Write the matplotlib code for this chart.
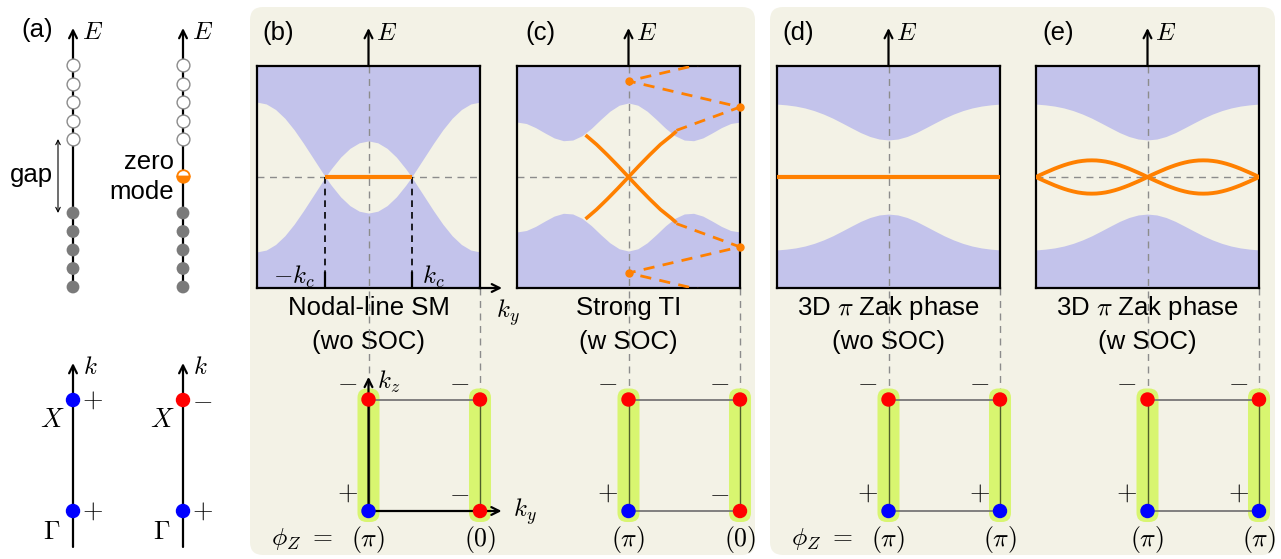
import numpy as np
import matplotlib
matplotlib.use("Agg")
import matplotlib.pyplot as plt
from matplotlib.patches import FancyBboxPatch

plt.rcParams['font.family'] = ['Liberation Sans', 'DejaVu Sans']
plt.rcParams['mathtext.fontset'] = 'cm'

# ---------------- data ----------------
# panel (a): energy levels in units of the level spacing
levels_empty = [2, 3, 4, 5, 6]
levels_filled = [-2, -3, -4, -5, -6]
zero_mode = [0]
# parities at (Gamma, X) for the two 1D chains
parity_chain = [['+', '+'], ['+', '-']]

# band edges (units of half box height), read at k = j*pi/12, j = 0..12
k_grid = [j / 12 for j in range(13)]
# (b) nodal line: bands touch at k = kc
kc_frac = 0.387
k_b = [0, 1/12, 2/12, 3/12, 4/12, kc_frac, 5/12, 6/12, 7/12, 8/12, 9/12, 10/12, 11/12, 1]
edge_b = [0.325, 0.308, 0.258, 0.179, 0.075, 0.0, 0.046, 0.175, 0.304, 0.425, 0.529, 0.608, 0.658, 0.675]
# (c) strong TI
edge_c = [0.667, 0.647, 0.593, 0.518, 0.438, 0.372, 0.333, 0.327, 0.352, 0.397, 0.445, 0.482, 0.495]
# (d), (e) pi Zak phase
edge_d = [0.334, 0.342, 0.365, 0.400, 0.443, 0.487, 0.530, 0.567, 0.598, 0.622, 0.639, 0.650, 0.657]

# surface states
surf_c_k = [-1.21, -0.9, -0.6, -0.3, 0, 0.3, 0.6, 0.9, 1.2, 1.35]
surf_c_e = [0.378, 0.293, 0.200, 0.102, 0, -0.102, -0.200, -0.293, -0.370, -0.412]
fold_c_k = [1.35, np.pi, 0, np.pi]
fold_c_e = [0.42, 0.63, 0.865, 1.10]
fold_dots_k = [0, np.pi]
fold_dots_e = [0.865, 0.63]
# (e) surface state, read at k = j*pi/24, j = 0..24
k_fine = [j / 24 for j in range(25)]
surf_e = [0, 0.020, 0.039, 0.057, 0.075, 0.091, 0.106, 0.119, 0.130, 0.139, 0.145, 0.149, 0.150,
          0.149, 0.145, 0.139, 0.130, 0.119, 0.106, 0.091, 0.075, 0.057, 0.039, 0.020, 0]

# parities at (ky,kz) = (0,0), (0,pi), (pi,0), (pi,pi)
parity_bz = [['+', '-', '-', '-'], ['+', '-', '-', '-'],
             ['+', '-', '+', '-'], ['+', '-', '+', '-']]
zak = [[r'$(\pi)$', r'$(0)$'], [r'$(\pi)$', r'$(0)$'],
       [r'$(\pi)$', r'$(\pi)$'], [r'$(\pi)$', r'$(\pi)$']]
titles = [['Nodal-line SM', '(wo SOC)'], ['Strong TI', '(w SOC)'],
          [r'3D $\pi$ Zak phase', '(wo SOC)'], [r'3D $\pi$ Zak phase', '(w SOC)']]
labels = ['(b)', '(c)', '(d)', '(e)']

# ---------------- style ----------------
W, H = 1281, 559
beige = '#f3f2e6'
lav = '#c3c3eb'
orange = '#ff8000'
green = '#d8f570'
gdash = '#8c8c8c'
pcol = {'+': '#0000ff', '-': '#ff0000'}
psign = {'+': '$+$', '-': '$-$'}
fs = 18.5
dot_s = 88

fig = plt.figure(figsize=(W / 100, H / 100), dpi=100)


def px_axes(x, y, w, h):
    return fig.add_axes([x / W, 1 - (y + h) / H, w / W, h / H])


def mirror(kf, e, odd=False):
    kf = np.asarray(kf) * np.pi
    e = np.asarray(e)
    k_full = np.concatenate([-kf[::-1], kf[1:]])
    e_full = np.concatenate([(-e if odd else e)[::-1], e[1:]])
    return k_full, e_full


ax0 = fig.add_axes([0, 0, 1, 1])
ax0.set_xlim(0, W)
ax0.set_ylim(H, 0)
ax0.axis('off')
for x0, x1 in [(250, 755), (770, 1275)]:
    ax0.add_patch(FancyBboxPatch((x0, 7), x1 - x0, 548,
                                 boxstyle='round,pad=0,rounding_size=13',
                                 fc=beige, ec='none'))

# ---------------- panel (a) ----------------
aT = px_axes(0, 0, 250, 300)
aT.set_xlim(0, 250)
aT.set_ylim(-(300 - 176) / 18.5, 176 / 18.5)
aT.axis('off')
col_x = [73, 183]
for x in col_x:
    aT.annotate('', xy=(x, 8.0), xytext=(x, -6),
                arrowprops=dict(arrowstyle='->', lw=1.6, color='k',
                                shrinkA=0, shrinkB=0, mutation_scale=14))
    aT.scatter([x] * len(levels_empty), levels_empty, s=85, fc='white',
               ec='#8a8a8a', lw=1.0, zorder=3)
    aT.scatter([x] * len(levels_filled), levels_filled, s=85, fc='#7a7a7a',
               ec='none', zorder=3)
    aT.text(x + 9, 7.8, '$E$', fontsize=18, va='center', ha='left')
aT.plot([col_x[1]] * len(zero_mode), zero_mode, 'o', ms=9, fillstyle='bottom',
        mfc=orange, mfcalt='white', mec=orange, mew=1.3, zorder=4)
aT.annotate('', xy=(58, 2), xytext=(58, -2),
            arrowprops=dict(arrowstyle='<->', lw=0.8, color='k',
                            shrinkA=0, shrinkB=0, mutation_scale=8))
aT.text(53, 0.05, 'gap', fontsize=fs, ha='right', va='center')
aT.text(174, 0.76, 'zero', fontsize=fs, ha='right', va='center')
aT.text(174, -0.86, 'mode', fontsize=fs, ha='right', va='center')
aT.text(37, 7.9, '(a)', fontsize=fs, ha='center', va='center')

aB = px_axes(0, 340, 250, 219)
aB.set_xlim(0, 250)
aB.set_ylim(-(559 - 511) / 111, (511 - 340) / 111)
aB.axis('off')
for x, par in zip(col_x, parity_chain):
    aB.annotate('', xy=(x, 1.333), xytext=(x, -0.324),
                arrowprops=dict(arrowstyle='->', lw=1.6, color='k',
                                shrinkA=0, shrinkB=0, mutation_scale=14))
    aB.scatter([x, x], [0, 1], s=dot_s, c=[pcol[p] for p in par], zorder=3)
    for kk, p in zip([0, 1], par):
        aB.text(x + 19, kk, psign[p], fontsize=19, ha='center', va='center')
    aB.text(x - 21, 0.82, '$X$', fontsize=19, ha='center', va='center')
    aB.text(x - 21, -0.19, r'$\Gamma$', fontsize=19, ha='center', va='center')
    aB.text(x + 10, 1.30, '$k$', fontsize=18, ha='left', va='center')

# ---------------- panels (b)-(e) ----------------
box_left = [257, 517, 777, 1036]
box_top, box_w, box_h = 66, 223, 222
xs = box_w / (2 * np.pi)   # px per unit k
ys = box_h / 2             # px per unit E

edges = [mirror(k_b, edge_b), mirror(k_grid, edge_c),
         mirror(k_grid, edge_d), mirror(k_grid, edge_d)]
dash_kw = dict(color=gdash, lw=1.0, dashes=(5, 4))

for i in range(4):
    ax = px_axes(box_left[i], box_top, box_w, box_h)
    ax.set_xlim(-np.pi, np.pi)
    ax.set_ylim(-1, 1)
    ax.set_facecolor(beige)
    ax.set_xticks([])
    ax.set_yticks([])
    for s in ax.spines.values():
        s.set_linewidth(1.6)
    k, e = edges[i]
    ax.fill_between(k, e, 1.1, color=lav, lw=0)
    ax.fill_between(k, -1.1, -e, color=lav, lw=0)
    ax.axhline(0, **dash_kw)
    bottom_e = -1 - (389 - 288) / ys
    ax.plot([0, 0], [1, bottom_e], clip_on=False, **dash_kw)
    ax.plot([np.pi, np.pi], [-1, bottom_e], clip_on=False, **dash_kw)
    ax.annotate('', xy=(0, 1 + (66 - 28) / ys), xytext=(0, 1),
                arrowprops=dict(arrowstyle='->', lw=1.6, color='k',
                                shrinkA=0, shrinkB=0, mutation_scale=14),
                annotation_clip=False)
    ax.text(0.22, 1 + (66 - 33) / ys, '$E$', fontsize=18, ha='left', va='center')

    if i == 0:
        kc = kc_frac * np.pi
        ax.plot([-kc, kc], [0, 0], color=orange, lw=3, solid_capstyle='butt', zorder=4)
        for x in (-kc, kc):
            ax.plot([x, x], [0, -0.865], color='k', lw=1.2, dashes=(4, 3))
            ax.plot([x, x], [-0.865, -1], color='k', lw=1.6)
        ax.text(-2.11, -0.9, '$-k_c$', fontsize=18, ha='center', va='center')
        ax.text(1.83, -0.9, '$k_c$', fontsize=18, ha='center', va='center')
        ax.annotate('', xy=(np.pi + 0.62, -1), xytext=(np.pi - 0.05, -1),
                    arrowprops=dict(arrowstyle='->', lw=1.6, color='k',
                                    shrinkA=0, shrinkB=0, mutation_scale=14),
                    annotation_clip=False)
        ax.text(3.6, -1.22, '$k_y$', fontsize=18, ha='left', va='center')
    elif i == 1:
        for sgn in (1, -1):
            ax.plot(surf_c_k, sgn * np.asarray(surf_c_e), color=orange, lw=2.6,
                    solid_capstyle='butt', zorder=4)
            ax.plot(fold_c_k, sgn * np.asarray(fold_c_e), color=orange, lw=2,
                    dashes=(4, 3), zorder=4)
            ax.plot(fold_dots_k, sgn * np.asarray(fold_dots_e), 'o', color=orange,
                    ms=5, clip_on=False, zorder=5)
    elif i == 2:
        ax.plot([-np.pi, np.pi], [0, 0], color=orange, lw=3, zorder=4)
    else:
        ks, es = mirror(k_fine, surf_e, odd=True)
        ax.plot(ks, es, color=orange, lw=2.8, zorder=4)
        ax.plot(ks, -es, color=orange, lw=2.8, zorder=4)

    # titles and panel labels
    cx = box_left[i] + box_w / 2
    ax0.text(cx, 308, titles[i][0], fontsize=fs, ha='center', va='center')
    ax0.text(cx, 342, titles[i][1], fontsize=fs, ha='center', va='center')
    lab_x = [278, 540, 798, 1058][i]
    ax0.text(lab_x, 33, labels[i], fontsize=fs, ha='center', va='center')

    # Brillouin-zone parity squares
    bz = px_axes(box_left[i], 360, box_w, 199)
    bz.set_xlim(-np.pi, np.pi)
    bz.set_ylim(-(559 - 511) / xs, (511 - 360) / xs)
    bz.axis('off')
    for kyv in (0, np.pi):
        bz.add_patch(FancyBboxPatch((kyv - 0.31, -0.31), 0.62, np.pi + 0.62,
                                    boxstyle='round,pad=0,rounding_size=0.26',
                                    fc=green, ec='none', clip_on=False))
        bz.plot([kyv, kyv], [0, np.pi], color='#4f5f2a', lw=1.0, clip_on=False)
    for kzv in (0, np.pi):
        bz.plot([0, np.pi], [kzv, kzv], color='#777777', lw=1.3)
    if i == 0:
        for xy in [(0, 3.78), (3.75, 0)]:
            bz.annotate('', xy=xy, xytext=(0, 0),
                        arrowprops=dict(arrowstyle='->', lw=1.6, color='k',
                                        shrinkA=0, shrinkB=0, mutation_scale=14),
                        annotation_clip=False)
        bz.text(0.25, 3.64, '$k_z$', fontsize=18, ha='left', va='center')
        bz.text(4.06, -0.03, '$k_y$', fontsize=18, ha='left', va='center')
    pts = [(0, 0), (0, np.pi), (np.pi, 0), (np.pi, np.pi)]
    bz.scatter([p[0] for p in pts], [p[1] for p in pts], s=dot_s,
               c=[pcol[p] for p in parity_bz[i]], zorder=4, clip_on=False)
    for (kyv, kzv), p in zip(pts, parity_bz[i]):
        bz.text(kyv - 0.59, kzv + (0.49 if kzv > 0 else 0.51), psign[p],
                fontsize=19, ha='center', va='center')
    for kyv, z in zip((0, np.pi), zak[i]):
        bz.text(kyv, -0.79, z, fontsize=18.5, ha='center', va='center', clip_on=False)
    if i in (0, 2):
        bz.text(-1.89, -0.79, r'$\phi_Z\ =$', fontsize=18.5, ha='center', va='center')

fig.savefig('out.png', dpi=100)
